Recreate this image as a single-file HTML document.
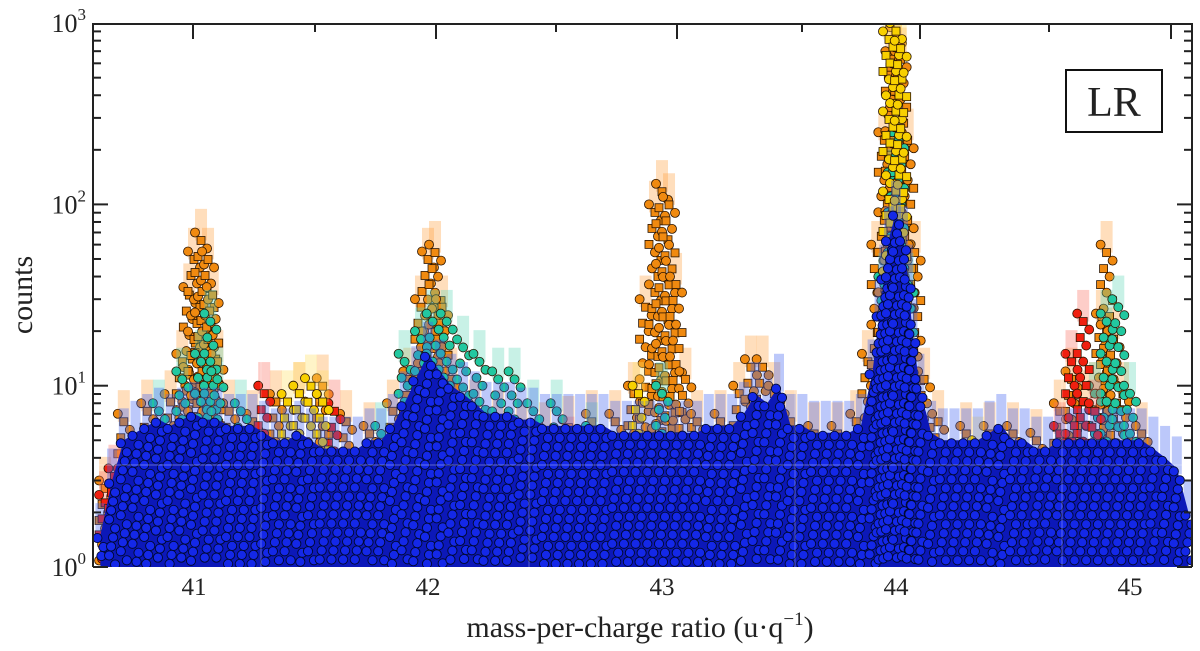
<!DOCTYPE html>
<html><head><meta charset="utf-8">
<style>
html,body{margin:0;padding:0;background:#fff;}
svg{display:block;}
text{font-family:"Liberation Serif","DejaVu Serif",serif;fill:#222;}
</style></head>
<body>
<svg id="chart" width="1200" height="651" viewBox="0 0 1200 651">
  <defs><clipPath id="plotclip"><rect x="93" y="24" width="1099" height="543"/></clipPath></defs>
  <g id="marks" clip-path="url(#plotclip)"></g>
  <g id="grid"></g>
  <g id="axes"></g>
  <g>
    <rect x="1066" y="70" width="96" height="62" fill="#fff" stroke="#111" stroke-width="2"/>
    <text x="1114" y="116" font-size="42" text-anchor="middle">LR</text>
  </g>
  <text x="640" y="637" font-size="30" text-anchor="middle">mass-per-charge ratio (u·q<tspan font-size="19" dy="-12">−1</tspan><tspan dy="12">)</tspan></text>
  <text x="0" y="0" font-size="30" text-anchor="middle" transform="translate(32,295) rotate(-90)">counts</text>
</svg>
<script>
// ---- data ----
const xTicks = [41, 42, 43, 44, 45];
const yTicks = [0, 1, 2, 3];
const blueMz = [40.60,40.65,40.70,40.75,40.80,40.85,40.90,40.95,41.00,41.05,41.10,41.15,41.20,41.25,41.30,41.35,41.40,41.45,41.50,41.55,41.60,41.65,41.70,41.75,41.80,41.85,41.90,41.95,42.00,42.05,42.10,42.15,42.20,42.25,42.30,42.35,42.40,42.45,42.50,42.55,42.60,42.65,42.70,42.75,42.80,42.85,42.90,42.95,43.00,43.05,43.10,43.15,43.20,43.25,43.30,43.35,43.40,43.45,43.50,43.55,43.60,43.65,43.70,43.75,43.80,43.85,43.90,43.93,43.95,43.97,44.00,44.03,44.05,44.07,44.10,44.15,44.20,44.25,44.30,44.35,44.40,44.45,44.50,44.55,44.60,44.65,44.70,44.75,44.80,44.85,44.90,44.95,45.00,45.05,45.10,45.15,45.20,45.25];
const blueCounts = [1.5,3,5,5.5,6,6.5,6,6.5,7,6.5,6.5,6,6,6,5.5,5,5,5.5,5,4.5,4.5,4.5,4.5,5,5,6,8,11,15,12,10,9,8,7,7,7,6.5,6.5,6,6,6,6,6,6,5.5,5.5,5.5,5.5,5.5,5.5,5.5,5.5,6,6,6,7,9,8,10,6,6,5.5,5.5,5.5,5.5,6,12,25,40,65,90,65,40,20,10,5.5,5,5,5,5,5.5,6,5,5,4.5,4.5,5,5,5,5,5,5,5,5,4.5,4,3.5,2];
const orangeMz = [40.62,40.70,40.80,40.90,40.95,40.98,41.00,41.03,41.06,41.08,41.10,41.15,41.25,41.35,41.45,41.55,41.65,41.75,41.85,41.92,41.97,42.00,42.03,42.06,42.10,42.20,42.30,42.40,42.50,42.60,42.70,42.80,42.88,42.93,42.97,43.00,43.03,43.06,43.10,43.15,43.25,43.33,43.38,43.43,43.48,43.55,43.65,43.75,43.83,43.88,43.92,43.95,43.98,44.00,44.02,44.05,44.08,44.12,44.18,44.30,44.40,44.50,44.60,44.70,44.75,44.80,44.85,44.88,44.90,44.93,44.97,45.05];
const orangeCounts = [3,7,8,9,15,35,55,70,55,35,15,8,7,9,10,11,7,6,8,12,30,55,60,30,12,8,7,6,6,6.5,7,7,10,30,100,130,110,40,12,7,7,10,14,14,10,7,6,6,7,15,60,250,700,950,700,250,60,12,7,6,6,6,5.5,8,12,9,10,25,60,20,10,6];
const tealMz = [40.85,40.95,41.03,41.07,41.10,41.20,41.80,41.90,41.97,42.02,42.08,42.15,42.22,42.30,42.37,42.45,42.55,42.70,43.00,43.95,43.99,44.01,44.05,44.85,44.90,44.95,45.00];
const tealCounts = [8,12,15,25,12,8,6,15,20,25,25,18,15,12,12,8,8,6,10,40,150,250,40,10,25,30,10];
const redMz = [40.62,40.66,40.70,41.30,41.60,42.60,44.70,44.75,44.80,44.85];
const redCounts = [2.5,3.5,3.5,10,8,5,6,15,25,8];
const yellowMz = [41.40,41.45,41.50,41.55,42.90,43.97,44.00,44.02,44.35];
const yellowCounts = [9,10,11,9,10,900,1000,800,5];

// ---- scales ----
function xs(m){ return 194 + (m - 41) * 234; }
function ys(c){ return 567 - Math.log10(c) * 181.3; }
const NS = 'http://www.w3.org/2000/svg';
function mk(tag, attrs, parent){ const e=document.createElementNS(NS,tag); for(const k in attrs) e.setAttribute(k,attrs[k]); parent.appendChild(e); return e; }
const marks = document.getElementById('marks');

function drawSeries(name, mz, counts, fill, fringe, square){
  const g = mk('g', {}, marks);
  
  
  for(let i=0;i<mz.length;i++){
    const x=xs(mz[i]), yt=ys(counts[i]*1.35), yb=ys(counts[i]);
    const r = mk('rect',{x:x-6,y:yt,width:12,height:Math.max(1,yb-yt+8),fill:fringe,opacity:0.35},g);
    
    
  }
  for(let i=0;i<mz.length;i++){
    const x=xs(mz[i]); const top=ys(counts[i]);
    let k=0;
    for(let y=top; y<=567; y+=8){
      const jx = ((k*7)%5 - 2)*3;
      let el;
      if(square && k%2===1){
        el = mk('rect',{x:x+jx-4,y:y-4,width:8,height:8,fill:fill,stroke:'#2a1400','stroke-width':0.8},g);
      } else {
        el = mk('circle',{cx:x+jx,cy:y,r:4.5,fill:fill,stroke:'#2a1400','stroke-width':0.8},g);
      }
      
      
      k++;
      if(k>50) break;
    }
  }
}

drawSeries('orange', orangeMz, orangeCounts, '#f08a10', '#ffa040', true);
drawSeries('teal', tealMz, tealCounts, '#22c8a0', '#60d8b8', false);
drawSeries('red', redMz, redCounts, '#f02010', '#f87060', true);
drawSeries('yellow', yellowMz, yellowCounts, '#f8d000', '#ffe060', true);

(function(){
  const g = mk('g', {}, marks);
  
  
  for(let i=0;i<blueMz.length;i++){
    const x=xs(blueMz[i]), yt=ys(blueCounts[i]*1.5), yb=ys(blueCounts[i]);
    const r = mk('rect',{x:x-5,y:yt,width:10,height:yb-yt+6,fill:'#4060f0',opacity:0.35},g);
    
    
  }
  let d = 'M' + xs(blueMz[0]) + ',567';
  for(let i=0;i<blueMz.length;i++) d += ' L' + xs(blueMz[i]).toFixed(1) + ',' + ys(blueCounts[i]).toFixed(1);
  d += ' L' + xs(blueMz[blueMz.length-1]) + ',567 Z';
  const area = mk('path',{d:d,fill:'#0c18b8'},g);
  
  
  for(let i=0;i<blueMz.length;i++){
    const x=xs(blueMz[i]); const top=ys(blueCounts[i]);
    let k=0;
    for(let y=top+3; y<=565; y+=9){
      const jx = ((k*3)%4 - 1.5)*2;
      const c = mk('circle',{cx:x+jx,cy:y,r:4.6,fill:'#1428e8',stroke:'#000830','stroke-width':0.9},g);
      
      
      k++;
    }
  }
})();

const grid = document.getElementById('grid');
[261,529,795,1062].forEach(function(x){
  const l = mk('line',{x1:x,y1:24,x2:x,y2:567,stroke:'#ffffff','stroke-width':1,opacity:0.3},grid);
  
  
});
const hl = mk('line',{x1:93,y1:465,x2:1192,y2:465,stroke:'#ffffff','stroke-width':1,opacity:0.35},grid);



const axes = document.getElementById('axes');
const frame = mk('path',{d:'M93,567 L93,24 L1192,24 L1192,567',fill:'none',stroke:'#222','stroke-width':2},axes);


yTicks.forEach(function(p){
  const y = ys(Math.pow(10,p));
  if(p<3){
    const t1 = mk('line',{x1:93,y1:y,x2:108,y2:y,stroke:'#222','stroke-width':2},axes);
    
    
    const t2 = mk('line',{x1:1192,y1:y,x2:1177,y2:y,stroke:'#222','stroke-width':2},axes);
    
    
    for(let m=2;m<=9;m++){
      const ym = ys(m*Math.pow(10,p));
      const a = mk('line',{x1:93,y1:ym,x2:101,y2:ym,stroke:'#222','stroke-width':2},axes);
      
      
      const b = mk('line',{x1:1192,y1:ym,x2:1184,y2:ym,stroke:'#222','stroke-width':2},axes);
      
      
    }
  }
  const tx = mk('text',{x:86,y:y+9,'font-size':26,'text-anchor':'end'},axes);
  
  
  const base = mk('tspan',{},tx);
  base.textContent = '10';
  const sup = mk('tspan',{'font-size':17,dy:-12},tx);
  sup.textContent = String(p);
});
xTicks.forEach(function(v){
  const t = mk('text',{x:xs(v),y:595,'font-size':25,'text-anchor':'middle'},axes);
  
  
  t.textContent = String(v);
});
[193,315,436,556,677,802,920,1049,1171].forEach(function(x,i){
  const len = (i%2===0) ? 15 : 8;
  const t = mk('line',{x1:x,y1:24,x2:x,y2:24+len,stroke:'#222','stroke-width':2},axes);
  
  
});
</script>
</body></html>
